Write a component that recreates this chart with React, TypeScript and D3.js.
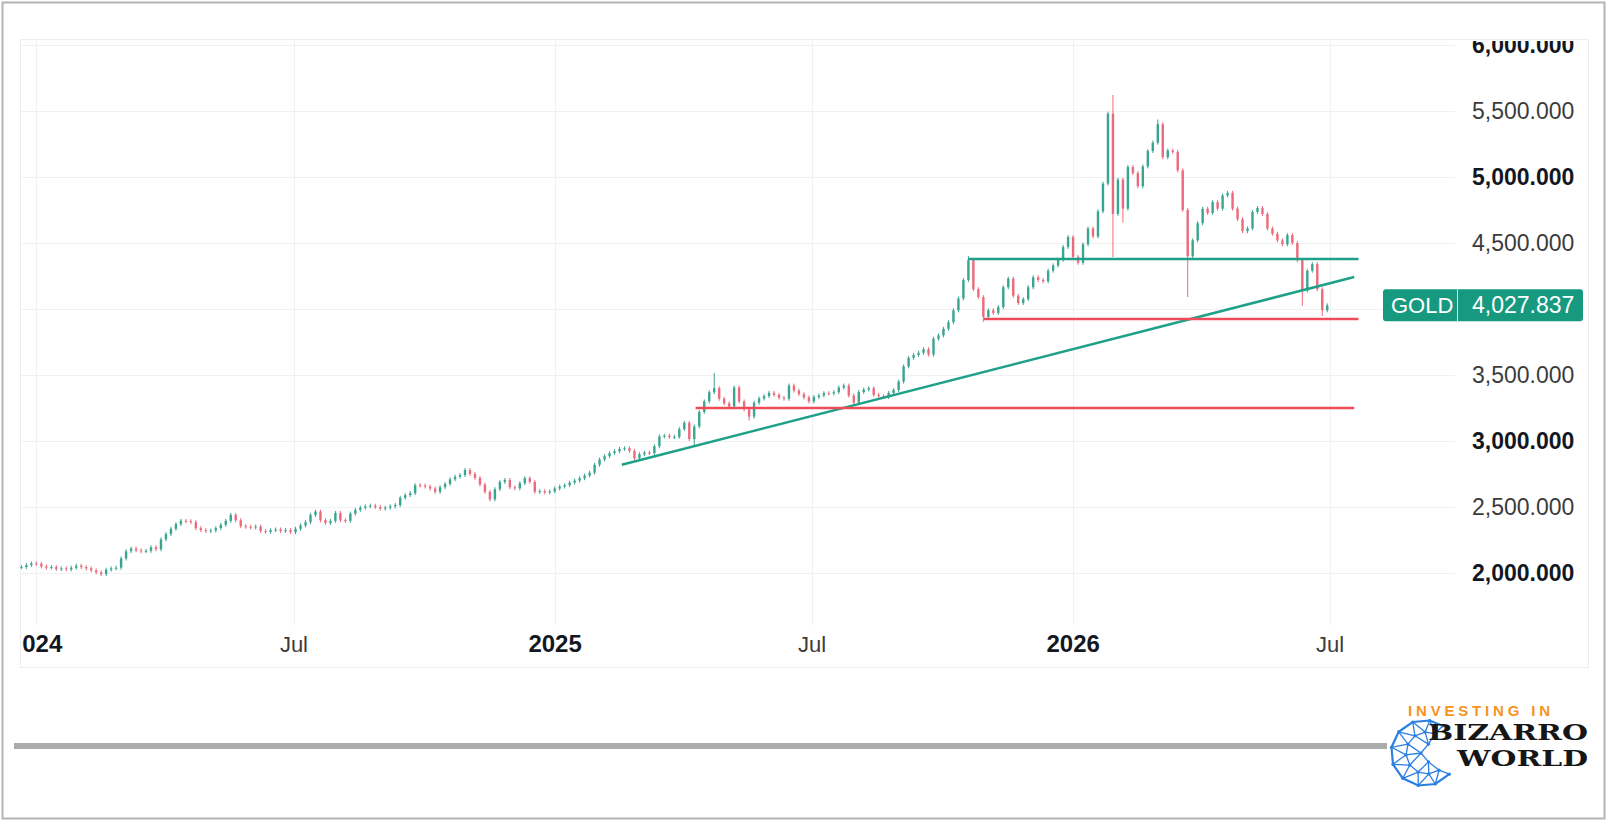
import React, { useEffect, useRef } from "react";
import * as d3 from "d3";

const W = 1608;
const H = 827;

// bar closes, two bars a week, 22 Dec 2023 -> 29 Jun 2026
const barCloses = [
  2045, 2060, 2072, 2070, 2050, 2040, 2045, 2030, 2035, 2028,
  2040, 2055, 2045, 2035, 2020, 2005, 1992, 2025, 2035, 2040,
  2110, 2165, 2185, 2172, 2165, 2168, 2195, 2180, 2255, 2295,
  2335, 2370, 2395, 2392, 2385, 2340, 2325, 2318, 2322, 2340,
  2365, 2395, 2440, 2400, 2355, 2350, 2345, 2352, 2318, 2312,
  2325, 2330, 2318, 2325, 2310, 2335, 2360, 2385, 2440, 2465,
  2400, 2380, 2395, 2455, 2400, 2395, 2450, 2478, 2495, 2505,
  2510, 2500, 2488, 2495, 2505, 2515, 2570, 2590, 2605, 2665,
  2662, 2655, 2640, 2615, 2650, 2675, 2710, 2730, 2742, 2780,
  2750, 2720, 2670, 2615, 2558, 2635, 2690, 2705, 2650, 2642,
  2680, 2718, 2690, 2615, 2620, 2610, 2618, 2640, 2655, 2665,
  2685, 2700, 2718, 2738, 2760, 2820, 2860, 2885, 2908, 2922,
  2940, 2945, 2925, 2868, 2900, 2912, 2908, 2960, 3035, 3040,
  3030, 3032, 3090, 3138, 3015, 3110, 3220, 3300, 3370, 3400,
  3320, 3285, 3262, 3405, 3300, 3240, 3185, 3290, 3322, 3340,
  3365, 3350, 3328, 3320, 3420, 3382, 3355, 3330, 3300, 3333,
  3345, 3362, 3360, 3370, 3405, 3420, 3345, 3290, 3371, 3390,
  3400, 3350, 3340, 3333, 3364, 3386, 3450, 3565, 3630, 3652,
  3668, 3695, 3655, 3775, 3800, 3850, 3900, 3990, 4080, 4220,
  4370, 4150, 4090, 3940, 3990, 3970, 4015, 4165, 4230, 4100,
  4045, 4075, 4165, 4240, 4220, 4210, 4290, 4330, 4372, 4470,
  4545, 4395, 4350, 4490, 4610, 4550, 4740, 4950, 5480, 4720,
  4980, 4760, 5076, 5030, 4930, 5080, 5197, 5260, 5400, 5150,
  5200, 5190, 5050, 4750, 4400, 4520, 4650, 4760, 4727, 4810,
  4760, 4860, 4880, 4760, 4680, 4590, 4610, 4735, 4765, 4720,
  4610, 4570, 4520, 4490, 4560, 4500, 4370, 4140, 4290, 4340,
  4150, 3990, 4027.837,
];
const firstBarDate = new Date(2023, 11, 22);
const lastBarDate = new Date(2026, 5, 29);

// bars whose wick runs clearly past the body
const wickBars = [
  { bar: 135, low: 2980 },
  { bar: 139, high: 3500 },
  { bar: 146, low: 3170 },
  { bar: 190, high: 4386 },
  { bar: 193, low: 3918 },
  { bar: 219, high: 5606, low: 4409 },
  { bar: 221, low: 4670 },
  { bar: 228, high: 5420 },
  { bar: 234, low: 4106 },
  { bar: 257, low: 4040 },
  { bar: 261, low: 3962 },
];

const priceTicks = [2000, 2500, 3000, 3500, 4000, 4500, 5000, 5500, 6000];
const boldPriceTicks = [2000, 3000, 4000, 5000, 6000];

const timeTicks = [
  new Date(2024, 0, 1), new Date(2024, 6, 1), new Date(2025, 0, 1),
  new Date(2025, 6, 1), new Date(2026, 0, 1), new Date(2026, 6, 1),
];
const timeTickLabels = ["2024", "Jul", "2025", "Jul", "2026", "Jul"];

// drawings on the chart
const trendLines = [
  { from: new Date(2025, 1, 17), p1: 2820, to: new Date(2026, 6, 18), p2: 4242, kind: "up" },
  { from: new Date(2025, 9, 19), p1: 4379, to: new Date(2026, 6, 21), p2: 4379, kind: "up" },
  { from: new Date(2025, 9, 30), p1: 3924, to: new Date(2026, 6, 21), p2: 3924, kind: "down" },
  { from: new Date(2025, 3, 10), p1: 3250, to: new Date(2026, 6, 18), p2: 3250, kind: "down" },
];

const symbol = "GOLD";
const lastPrice = 4027.837;

const GREEN = "#3aa58f";
const RED = "#eb6b7c";
const LINE_GREEN = "#1fa088";
const LINE_RED = "#f04b5b";
const FONT = "'Liberation Sans', Arial, sans-serif";

export default function App() {
  const ref = useRef<SVGSVGElement>(null);

  useEffect(() => {
    document.body.style.margin = "0";
    const svg = d3.select(ref.current);
    svg.selectAll("*").remove();

    const plot = { left: 20, right: 1455, top: 40, bottom: 625 };
    const panel = { left: 20, right: 1588, top: 40, bottom: 668 };

    const x = d3.scaleTime()
      .domain([new Date(2023, 11, 21), new Date(2026, 8, 27)])
      .range([plot.left, plot.right]);
    const y = d3.scaleLinear().domain([2000, 6000]).range([573, 45]);
    const fmt = d3.format(",.3f");

    const defs = svg.append("defs");
    defs.append("clipPath").attr("id", "plotClip").append("rect")
      .attr("x", plot.left).attr("y", plot.top)
      .attr("width", plot.right - plot.left).attr("height", plot.bottom - plot.top);
    // labels sit inside the panel; the edge ones get cut like in the app
    defs.append("clipPath").attr("id", "labelClip").append("rect")
      .attr("x", 22).attr("y", 41)
      .attr("width", panel.right - 22).attr("height", panel.bottom - 41);

    svg.append("rect").attr("width", W).attr("height", H).attr("fill", "#fff");

    // outer frame + panel
    svg.append("rect")
      .attr("x", 2.5).attr("y", 2.5).attr("width", 1602).attr("height", 816)
      .attr("fill", "none").attr("stroke", "#b4b4b4").attr("stroke-width", 2);
    svg.append("rect")
      .attr("x", panel.left + 0.5).attr("y", panel.top - 0.5)
      .attr("width", panel.right - panel.left).attr("height", panel.bottom - panel.top)
      .attr("fill", "none").attr("stroke", "#ededed");

    // grid
    const grid = svg.append("g").attr("clip-path", "url(#plotClip)");
    grid.selectAll("line.h").data(priceTicks).join("line")
      .attr("x1", plot.left).attr("x2", plot.right)
      .attr("y1", d => Math.round(y(d)) + 0.5).attr("y2", d => Math.round(y(d)) + 0.5)
      .attr("stroke", "#f0f1f3");
    grid.selectAll("line.v").data(timeTicks).join("line")
      .attr("x1", d => Math.round(x(d)) + 0.5).attr("x2", d => Math.round(x(d)) + 0.5)
      .attr("y1", plot.top).attr("y2", plot.bottom)
      .attr("stroke", "#f0f1f3");

    // candles
    const n = barCloses.length;
    const step = (+lastBarDate - +firstBarDate) / (n - 1);
    const bars = barCloses.map((c, i) => {
      const o = i === 0 ? c : barCloses[i - 1];
      const w = wickBars.find(b => b.bar === i) as { high?: number; low?: number } | undefined;
      return {
        date: new Date(+firstBarDate + i * step),
        o, c,
        h: w && w.high !== undefined ? w.high : Math.max(o, c),
        l: w && w.low !== undefined ? w.low : Math.min(o, c),
      };
    });

    const candles = svg.append("g").attr("clip-path", "url(#plotClip)");
    candles.selectAll("line").data(bars).join("line")
      .attr("x1", d => x(d.date)).attr("x2", d => x(d.date))
      .attr("y1", d => y(d.h) - 2).attr("y2", d => y(d.l) + 2)
      .attr("stroke", d => (d.c >= d.o ? GREEN : RED)).attr("stroke-width", 1);
    candles.selectAll("rect").data(bars).join("rect")
      .attr("x", d => x(d.date) - 1.2).attr("width", 2.4)
      .attr("y", d => y(Math.max(d.o, d.c)))
      .attr("height", d => Math.max(1, Math.abs(y(d.o) - y(d.c))))
      .attr("fill", d => (d.c >= d.o ? GREEN : RED));

    // trend lines
    svg.append("g").attr("clip-path", "url(#plotClip)")
      .selectAll("line").data(trendLines).join("line")
      .attr("x1", d => x(d.from)).attr("y1", d => y(d.p1))
      .attr("x2", d => x(d.to)).attr("y2", d => y(d.p2))
      .attr("stroke", d => (d.kind === "up" ? LINE_GREEN : LINE_RED))
      .attr("stroke-width", 2.5);

    // price scale
    const axisG = svg.append("g").attr("clip-path", "url(#labelClip)");
    axisG.selectAll("text.p").data(priceTicks.filter(p => p !== 4000)).join("text")
      .attr("x", 1472).attr("y", d => y(d) + 7.5)
      .attr("font-family", FONT).attr("font-size", 23)
      .attr("font-weight", d => (boldPriceTicks.includes(d) ? "bold" : "normal"))
      .attr("fill", d => (boldPriceTicks.includes(d) ? "#131722" : "#3c3c3c"))
      .text(d => fmt(d));

    // time scale
    axisG.selectAll("text.t").data(timeTicks).join("text")
      .attr("x", d => x(d)).attr("y", 652)
      .attr("text-anchor", "middle")
      .attr("font-family", FONT)
      .attr("font-size", (d, i) => (timeTickLabels[i] === "Jul" ? 22 : 24))
      .attr("font-weight", (d, i) => (timeTickLabels[i] === "Jul" ? "normal" : "bold"))
      .attr("fill", (d, i) => (timeTickLabels[i] === "Jul" ? "#3c3c3c" : "#131722"))
      .text((d, i) => timeTickLabels[i]);

    // last price tag
    const ty = y(lastPrice);
    const tag = svg.append("g");
    tag.append("rect").attr("x", 1383).attr("y", ty - 16).attr("width", 200).attr("height", 32)
      .attr("rx", 3).attr("fill", "#17997f");
    tag.append("line").attr("x1", 1457.5).attr("x2", 1457.5).attr("y1", ty - 16).attr("y2", ty + 16)
      .attr("stroke", "#ffffff").attr("stroke-opacity", 0.8);
    tag.append("text").attr("x", 1391).attr("y", ty + 8)
      .attr("font-family", FONT).attr("font-size", 22).attr("fill", "#fff").text(symbol);
    tag.append("text").attr("x", 1472).attr("y", ty + 8)
      .attr("font-family", FONT).attr("font-size", 23).attr("fill", "#fff").text(fmt(lastPrice));

    // grey scroll bar
    svg.append("rect").attr("x", 14).attr("y", 743).attr("width", 1373).attr("height", 6)
      .attr("fill", "#ababab");

    // logo: wire globe + wordmark
    const logo = svg.append("g");
    const cx = 1424, cy = 753;
    const polar = (r: number, a: number, dx = 0) => [
      cx + dx + r * Math.cos((a * Math.PI) / 180), cy + r * Math.sin((a * Math.PI) / 180),
    ];
    const outer = [40, 70, 100, 130, 160, 190, 220, 250, 280, 305].map(a => polar(33, a));
    const inner = [55, 85, 115, 145, 175, 205, 235, 265, 292].map(a => polar(21, a, 3));
    const core = [100, 180, 260].map(a => polar(9, a, 6));
    const meshSegs: number[][][] = [];
    for (let k = 0; k < inner.length; k++) {
      meshSegs.push([outer[k], inner[k]], [inner[k], outer[k + 1]]);
      if (k < inner.length - 1) meshSegs.push([inner[k], inner[k + 1]]);
      meshSegs.push([inner[k], core[Math.min(2, Math.floor(k / 3))]]);
    }
    meshSegs.push([core[0], core[1]], [core[1], core[2]]);
    logo.append("path")
      .attr("d", d3.line()(outer as [number, number][]))
      .attr("fill", "none").attr("stroke", "#2b7fe3").attr("stroke-width", 2.2);
    logo.selectAll("line").data(meshSegs).join("line")
      .attr("x1", d => d[0][0]).attr("y1", d => d[0][1])
      .attr("x2", d => d[1][0]).attr("y2", d => d[1][1])
      .attr("stroke", "#2b7fe3").attr("stroke-width", 1.3);
    logo.selectAll("circle").data([...outer, ...inner, ...core]).join("circle")
      .attr("cx", d => d[0]).attr("cy", d => d[1]).attr("r", 1.6).attr("fill", "#2b7fe3");

    logo.append("text").attr("x", 1408).attr("y", 716)
      .attr("font-family", FONT).attr("font-weight", "bold").attr("font-size", 15)
      .attr("textLength", 142).attr("lengthAdjust", "spacing")
      .attr("fill", "#f7931e").text("INVESTING IN");
    logo.append("text").attr("x", 1428).attr("y", 740)
      .attr("font-family", "'DejaVu Serif', serif").attr("font-weight", "bold").attr("font-size", 22)
      .attr("textLength", 160).attr("lengthAdjust", "spacingAndGlyphs")
      .attr("fill", "#161616").text("BIZARRO");
    logo.append("text").attr("x", 1457).attr("y", 766)
      .attr("font-family", "'DejaVu Serif', serif").attr("font-weight", "bold").attr("font-size", 22)
      .attr("textLength", 131).attr("lengthAdjust", "spacingAndGlyphs")
      .attr("fill", "#161616").text("WORLD");
  }, []);

  return (
    <svg
      ref={ref}
      width={W}
      height={H}
      style={{ position: "absolute", left: 0, top: 0, display: "block" }}
    />
  );
}
